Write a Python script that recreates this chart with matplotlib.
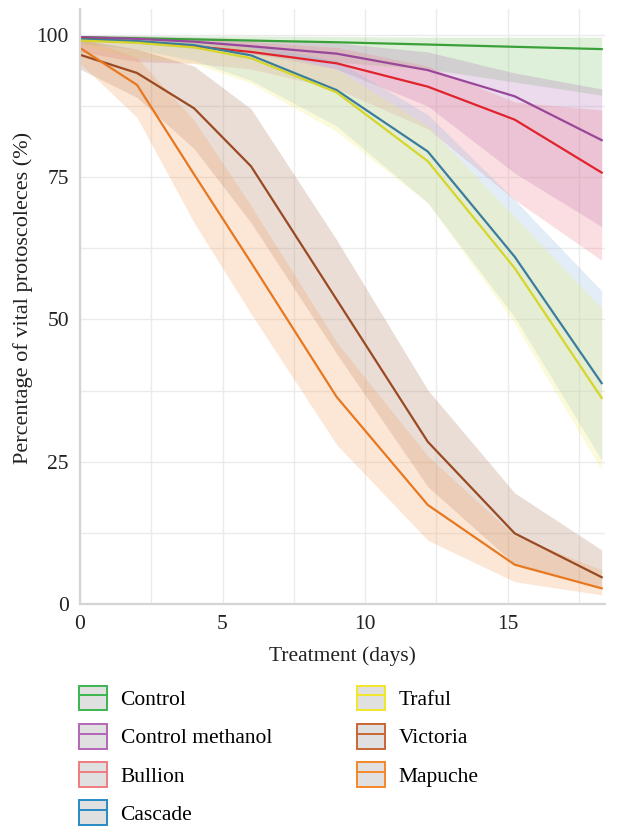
import numpy as np
import matplotlib
matplotlib.use("Agg")
from matplotlib import pyplot as plt
from matplotlib.patches import Patch
from matplotlib.lines import Line2D
from matplotlib.ticker import MultipleLocator

plt.rcParams['font.family'] = ['Liberation Serif', 'DejaVu Serif']

days = [0, 2, 4, 6, 9, 12.2, 15.25, 18.3]

names = ["Control", "Control methanol", "Bullion", "Cascade",
         "Traful", "Victoria", "Mapuche"]

control = [99.6, 99.4, 99.2, 99.0, 98.7, 98.3, 97.9, 97.5]
control_lo = [99.0, 98.5, 97.6, 96.6, 95.2, 94.0, 91.7, 89.4]
control_hi = [99.9, 99.9, 99.8, 99.8, 99.7, 99.6, 99.6, 99.6]

methanol = [99.6, 99.3, 98.8, 98.0, 96.7, 93.8, 89.2, 81.5]
methanol_lo = [99.0, 98.5, 97.8, 96.8, 94.0, 87.5, 75.7, 66.3]
methanol_hi = [99.9, 99.8, 99.6, 99.3, 98.6, 97.0, 93.3, 90.5]

bullion = [99.4, 98.8, 98.0, 97.0, 95.0, 90.9, 85.1, 75.8]
bullion_lo = [97.0, 95.3, 95.0, 94.0, 90.5, 83.5, 71.0, 60.4]
bullion_hi = [99.8, 99.5, 99.2, 98.8, 97.8, 94.5, 88.2, 86.8]

cascade = [99.3, 98.9, 98.2, 96.4, 90.3, 79.5, 61.0, 38.8]
cascade_lo = [98.5, 97.5, 95.5, 92.0, 84.0, 70.5, 50.4, 25.3]
cascade_hi = [99.8, 99.5, 99.0, 98.2, 95.5, 86.0, 71.0, 55.0]

traful = [99.0, 98.6, 97.8, 95.9, 89.9, 77.8, 59.0, 36.2]
traful_lo = [98.2, 96.0, 95.0, 91.5, 83.0, 70.5, 49.3, 23.5]
traful_hi = [99.6, 99.2, 98.8, 97.8, 94.0, 84.0, 68.0, 52.0]

victoria = [96.5, 93.3, 87.1, 76.9, 53.5, 28.5, 12.4, 4.7]
victoria_lo = [94.0, 89.0, 80.0, 67.0, 44.0, 20.6, 7.0, 3.0]
victoria_hi = [99.2, 97.5, 94.5, 87.0, 64.0, 37.6, 19.5, 9.5]

mapuche = [97.7, 91.2, 75.5, 60.0, 36.4, 17.4, 6.9, 2.75]
mapuche_lo = [95.0, 85.5, 67.0, 51.0, 28.0, 11.2, 3.9, 1.6]
mapuche_hi = [99.5, 96.0, 85.0, 70.0, 46.0, 26.0, 12.0, 6.0]

means = [control, methanol, bullion, cascade, traful, victoria, mapuche]
lows = [control_lo, methanol_lo, bullion_lo, cascade_lo, traful_lo, victoria_lo, mapuche_lo]
highs = [control_hi, methanol_hi, bullion_hi, cascade_hi, traful_hi, victoria_hi, mapuche_hi]

line_colors = ["#3aa13a", "#98479a", "#e0232d", "#3a7d9c", "#d6d62a", "#9a4a22", "#e8781f"]
band_colors = ["#7fc46a", "#b070b8", "#ef7f8a", "#8fb8e0", "#f0ee70", "#a87858", "#f5a060"]
legend_colors = ["#3cb550", "#b266b5", "#f07c80", "#2a8ac4", "#f2e629", "#c86636", "#f5872a"]

fig = plt.figure(figsize=(6.17, 8.26), dpi=100)
ax = fig.add_axes([0.1297, 0.2688, 0.851, 0.72])

for m, lo, hi, lc, bc in zip(means, lows, highs, line_colors, band_colors):
    ax.fill_between(days, lo, hi, color=bc, alpha=0.25, linewidth=0)
for m, lc in zip(means, line_colors):
    ax.plot(days, m, color=lc, linewidth=1.6)

ax.set_xlim(0, 18.42)
ax.set_ylim(0, 104.5)
ax.xaxis.set_major_locator(MultipleLocator(5))
ax.xaxis.set_minor_locator(MultipleLocator(2.5))
ax.yaxis.set_major_locator(MultipleLocator(25))
ax.yaxis.set_minor_locator(MultipleLocator(12.5))
ax.grid(True, which="both", color="#ebebeb", linewidth=1.0)
ax.set_axisbelow(True)
ax.tick_params(which="both", length=0, labelsize=15.5, colors="#222222", pad=8)
for s in ["top", "right"]:
    ax.spines[s].set_visible(False)
for s in ["left", "bottom"]:
    ax.spines[s].set_color("#d4d4d4")
    ax.spines[s].set_linewidth(1.6)

ax.set_xlabel("Treatment (days)", fontsize=15.5, color="#222222", labelpad=9)
ax.set_ylabel("Percentage of vital protoscoleces (%)", fontsize=16, color="#222222")
ax.yaxis.set_label_coords(-0.09, 0.515)

handles = []
for c in legend_colors:
    handles.append((Patch(facecolor="#e0e0e0", edgecolor=c, linewidth=1.4),
                    Line2D([], [], color=c, linewidth=1.4)))
fig.legend(handles, names, ncol=2, loc="upper left", bbox_to_anchor=(0.097, 0.1935),
           frameon=False, fontsize=15.5, handlelength=1.3, handleheight=1.4,
           labelspacing=0.62, columnspacing=3.95, handletextpad=0.62)

fig.savefig("out.png", dpi=100)
